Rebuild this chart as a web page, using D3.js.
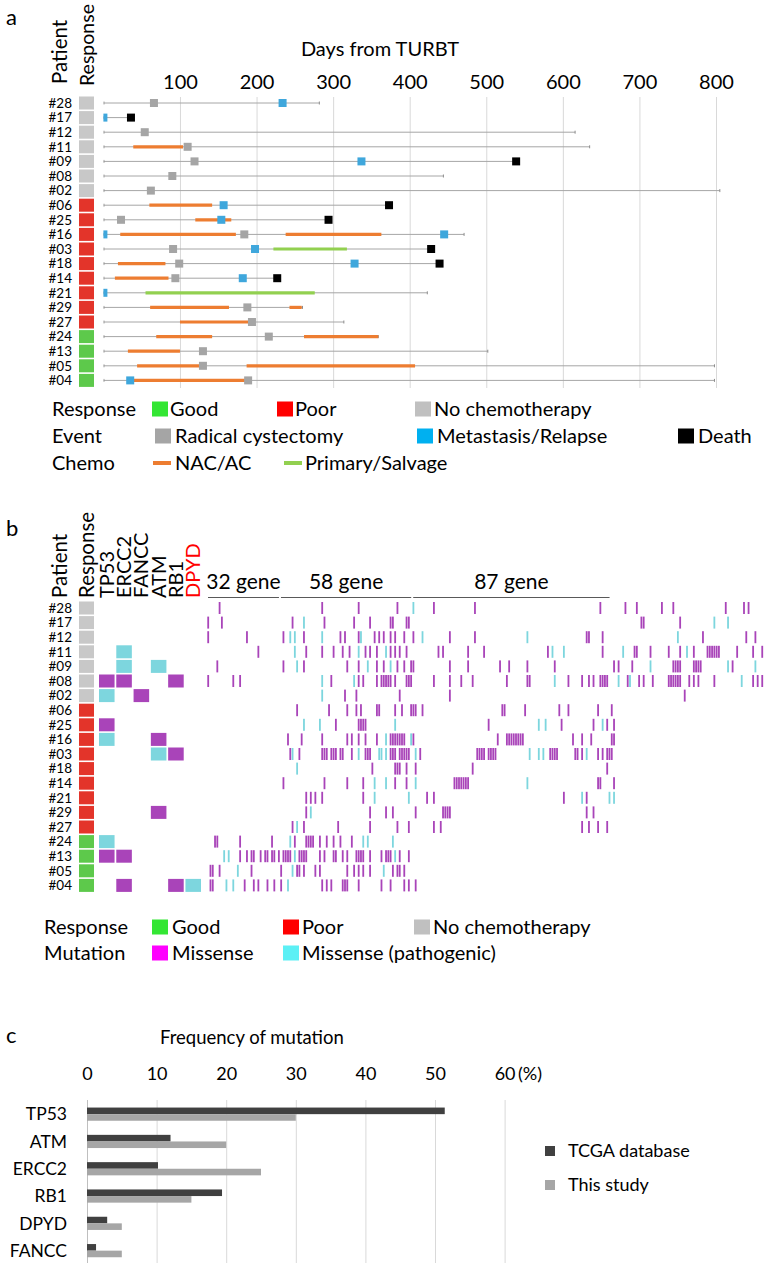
<!DOCTYPE html>
<html lang="en">
<head>
<meta charset="UTF-8">
<script src="https://d3js.org/d3.v7.min.js"></script>
<title>Timeline, mutations and frequency</title>
<style>
  body { margin: 0; background: #fff; }
  svg text { font-family: Lato, "Open Sans", sans-serif; fill: #000; }
</style>
</head>
<body>
<div id="chart"></div>
<script>
// ---- shared patient order
const patients = ["#28","#17","#12","#11","#09","#08","#02","#06","#25","#16",
                  "#03","#18","#14","#21","#29","#27","#24","#13","#05","#04"];
const response = ["none","none","none","none","none","none","none",
                  "poor","poor","poor","poor","poor","poor","poor","poor","poor",
                  "good","good","good","good"];

// ---- panel a: days from TURBT
const dayTicks = [100, 200, 300, 400, 500, 600, 700, 800];
const followUp = [282, 36, 616, 635, 539, 444, 805, 373, 294, 471, 428, 439, 227, 423, 260, 314, 359, 502, 798, 798];
const cystectomy = [66, null, 54, 110, 119, 90, 62, null, 23, 184, 91, 99, 94, null, 188, 194, 216, 130, 130, 189];
const metastasis = [[234], [0], [], [], [337], [], [], [157], [154], [0, 445], [198], [328], [182], [0], [], [], [], [], [], [35]];
const death = [null, 36, null, null, 539, null, null, 373, 294, null, 428, 439, 227, null, null, null, null, null, null, null];
const nacAc = [[], [], [], [[39, 104]], [], [], [], [[60, 142]], [[120, 167]], [[22, 173], [238, 363]],
               [], [[19, 81]], [[15, 85]], [], [[61, 164], [243, 259]], [[100, 189]], [[69, 142], [262, 359]],
               [[32, 100]], [[44, 126], [187, 407]], [[35, 185]]];
const salvage = [[], [], [], [], [], [], [], [], [], [], [[222, 318]], [], [], [[55, 276]], [], [], [], [], [], []];

// ---- panel b: mutations
const drivers = ["TP53", "ERCC2", "FANCC", "ATM", "RB1", "DPYD"];
const driverMissense = [[], [], [], [], [], ["TP53", "ERCC2", "RB1"], ["FANCC"], [], ["TP53"], ["ATM"],
                        ["RB1"], [], [], [], ["ATM"], [], [], ["TP53", "ERCC2"], [], ["ERCC2", "RB1"]];
const driverPathogenic = [[], [], [], ["ERCC2"], ["ERCC2", "ATM"], [], ["TP53"], [], [], ["TP53"],
                          ["ATM"], [], [], [], [], [], ["TP53"], [], [], ["DPYD"]];
const panelNames = ["32 gene", "58 gene", "87 gene"];
const panelSizes = [32, 58, 87];
const geneCount = 245;
// gene column index of each missense / pathogenic call, per patient
const missense = [
  [5,50,66,83,99,117,172,183,188,199,204,227,235,237],
  [0,6,37,51,64,71,80,81,87,88,190,191,207],
  [0,17,33,42,58,60,66,73,75,77,80,82,86,90,106,117,166,167,173,217,236,240],
  [22,43,50,55,59,62,69,71,74,80,82,84,87,101,103,114,121,149,173,187,188,194,202,207,213,219,220,221,222,223,224,232,239,243],
  [4,33,42,61,66,74,77,83,86,89,90,106,114,128,132,140,152,178,180,186,204,205,206,207,213,214,215,216,230],
  [0,11,14,54,66,68,74,76,77,78,79,80,82,87,88,89,99,106,111,116,131,140,141,158,164,167,169,172,173,174,175,184,189,191,195,202,203,204,205,206,207,211,213,215,222,239,241,243],
  [60,65,84,106,209],
  [39,53,61,65,67,74,75,82,85,89,90,91,94,129,130,139,154,158,171,177],
  [56,66,67,68,69,123,155,169,175,178],
  [35,41,50,61,63,66,69,74,80,81,82,83,84,85,86,90,127,131,132,133,134,135,136,137,138,160,164,168,177,178],
  [36,40,50,51,52,54,55,56,58,59,63,69,70,71,80,81,82,84,85,86,87,88,93,118,119,120,121,123,124,125,126,150,151,152,153,161,162,164,171,173,175,176,177],
  [72,82,83,84,87,91,116,175],
  [33,51,61,68,82,87,108,109,110,111,112,113,114,171,172,178],
  [43,45,47,50,68,96,99,156,166],
  [43,71,78,81,91,103,104,105,106,166,169],
  [37,42,57,71,83,88,99,102,164,167,171,175],
  [3,4,14,28,38,43,44,45,46,49,52,55,58,63],
  [14,17,19,20,23,25,26,28,29,31,33,34,35,36,40,41,42,43,49,51,55,56,59,61,65,66,67,68,71,76,78,79,80,84,88],
  [1,2,5,19,32,39,40,42,47,49,61,64,66,68,71,81,83,84,86],
  [1,2,16,20,22,26,29,32,50,52,54,59,60,61,66,76,80,86,88,91]
];
const pathogenic = [
  [90], [42,222,228], [36,38,50,67,94,140,206], [38,66,78,151,156,182,210], [39,70,80,194,228,240],
  [50,64,152,180,185,234], [50], [], [42,49,82,145,148,173], [78,89],
  [37,66,75,76,78,91,141,145,147,166], [39], [73,78,91,140], [73,88,164,176,178], [45],
  [39], [36,68,70,81], [7,9,38,82], [13,37,77], [8,11,35]
];

// ---- panel c: frequency of mutation (%)
const freqGenes = ["TP53", "ATM", "ERCC2", "RB1", "DPYD", "FANCC"];
const tcga = [51.4, 12, 10.2, 19.4, 2.9, 1.3];
const thisStudy = [30, 20, 25, 15, 5, 5];
const freqTicks = [0, 10, 20, 30, 40, 50, 60];

const respColor = {none: "#c8c8c8", poor: "#e3342a", good: "#5dc94b"};
const purple = "#a944b9", cyan = "#7dd6de";
const legendSize = 20;

const svg = d3.select("#chart").append("svg")
  .attr("width", 765).attr("height", 1284);
svg.append("rect").attr("width", 765).attr("height", 1284).attr("fill", "#fff");

function rotLabel(g, txt, x, y, size, color) {
  g.append("text").attr("transform", `translate(${x},${y}) rotate(-90)`)
    .attr("font-size", size).style("fill", color || "#000").text(txt);
}

function legendRow(g, y, label, labelX, items) {
  g.append("text").attr("x", labelX).attr("y", y).attr("dy", "0.36em")
    .attr("font-size", legendSize).text(label);
  items.forEach(it => {
    if (it.dash) {
      g.append("rect").attr("x", it.sx).attr("y", y - 2).attr("width", 18).attr("height", 4).attr("fill", it.color);
    } else {
      g.append("rect").attr("x", it.sx).attr("y", y - 7.5).attr("width", 16).attr("height", 15).attr("fill", it.color);
    }
    g.append("text").attr("x", it.tx).attr("y", y).attr("dy", "0.36em")
      .attr("font-size", legendSize).text(it.text);
  });
}

// =================== panel a ===================
const gA = svg.append("g");
const x = d3.scaleLinear().domain([0, 800]).range([103.4, 716]);
const yA = d3.scaleBand().domain(patients).range([95.7, 95.7 + patients.length * 14.6]);

gA.append("text").attr("x", 6).attr("y", 25).attr("font-size", 22).text("a");
rotLabel(gA, "Patient", 67, 84, 20.5);
rotLabel(gA, "Response", 94, 86, 19.5);
gA.append("text").attr("x", 380).attr("y", 56).attr("text-anchor", "middle")
  .attr("font-size", 20).text("Days from TURBT");

gA.append("g").attr("transform", "translate(0,97)")
  .call(d3.axisTop(x).tickValues(dayTicks).tickSize(-291).tickPadding(8))
  .call(g => g.select(".domain").remove())
  .call(g => g.selectAll("line").attr("stroke", "#d9d9d9"))
  .call(g => g.selectAll("text").attr("font-size", 20).attr("font-family", null));

svg.append("clipPath").attr("id", "clipA")
  .append("rect").attr("x", x(0)).attr("y", 90).attr("width", 700).attr("height", 310);

const rowA = gA.selectAll("g.rowA").data(patients).join("g")
  .attr("class", "rowA")
  .attr("transform", d => `translate(0,${yA(d) + yA.bandwidth() / 2})`);

rowA.append("text").attr("x", 72).attr("dy", "0.35em").attr("text-anchor", "end")
  .attr("font-size", 13.5).text(d => d);
rowA.append("rect").attr("x", 79).attr("y", -6.5).attr("width", 15).attr("height", 13)
  .attr("fill", (d, i) => respColor[response[i]]);

rowA.each(function (d, i) {
  const cy = yA(d) + yA.bandwidth() / 2;
  // clip in page coordinates so the marks at day 0 are cut at the start line
  const inner = d3.select(this).append("g").attr("transform", `translate(0,${-cy})`)
    .attr("clip-path", "url(#clipA)")
    .append("g").attr("transform", `translate(0,${cy})`);
  inner.append("line").attr("x1", x(0)).attr("x2", x(followUp[i]))
    .attr("stroke", "#a6a6a6").attr("stroke-width", 1);
  inner.append("line").attr("x1", x(0) + 0.5).attr("x2", x(0) + 0.5).attr("y1", -1.5).attr("y2", 1.5)
    .attr("stroke", "#8c8c8c");
  if (death[i] === null) {
    inner.append("line").attr("x1", x(followUp[i])).attr("x2", x(followUp[i])).attr("y1", -1.5).attr("y2", 1.5)
      .attr("stroke", "#8c8c8c");
  }
  inner.selectAll("line.nac").data(nacAc[i]).join("line").attr("class", "nac")
    .attr("x1", s => x(s[0])).attr("x2", s => x(s[1]))
    .attr("stroke", "#ed7d31").attr("stroke-width", 3.2);
  inner.selectAll("line.sal").data(salvage[i]).join("line").attr("class", "sal")
    .attr("x1", s => x(s[0])).attr("x2", s => x(s[1]))
    .attr("stroke", "#92d050").attr("stroke-width", 3.2);
  if (cystectomy[i] !== null) {
    inner.append("rect").attr("x", x(cystectomy[i]) - 4).attr("y", -4).attr("width", 8).attr("height", 8)
      .attr("fill", "#a5a5a5");
  }
  inner.selectAll("rect.met").data(metastasis[i]).join("rect").attr("class", "met")
    .attr("x", v => x(v) - 4).attr("y", -4).attr("width", 8).attr("height", 8)
    .attr("fill", "#3fa7dc");
  if (death[i] !== null) {
    inner.append("rect").attr("x", x(death[i]) - 4).attr("y", -4).attr("width", 8).attr("height", 8)
      .attr("fill", "#000");
  }
});

const legA = gA.append("g");
legendRow(legA, 409, "Response", 52, [
  {sx: 152, tx: 170, color: "#33e633", text: "Good"},
  {sx: 277, tx: 295, color: "#ff0000", text: "Poor"},
  {sx: 415, tx: 434, color: "#c0c0c0", text: "No chemotherapy"}]);
legendRow(legA, 436, "Event", 52, [
  {sx: 155, tx: 175, color: "#a5a5a5", text: "Radical cystectomy"},
  {sx: 417, tx: 437, color: "#00b0f0", text: "Metastasis/Relapse"},
  {sx: 678, tx: 698, color: "#000000", text: "Death"}]);
legendRow(legA, 463, "Chemo", 52, [
  {sx: 153, tx: 175, color: "#ed7d31", text: "NAC/AC", dash: true},
  {sx: 284, tx: 305, color: "#92d050", text: "Primary/Salvage", dash: true}]);

// =================== panel b ===================
const gB = svg.append("g");
const yB = d3.scaleBand().domain(patients).range([600.7, 600.7 + patients.length * 14.6]);
const xDrv = d3.scaleBand().domain(drivers).range([99, 201]).paddingInner(0.1);
const xGene = d3.scaleBand().domain(d3.range(geneCount)).range([207, 765.6]);

gB.append("text").attr("x", 6).attr("y", 536).attr("font-size", 22).text("b");
rotLabel(gB, "Patient", 67, 598, 20.5);
rotLabel(gB, "Response", 94, 598, 20.5);
drivers.forEach(g => rotLabel(gB, g, xDrv(g) + xDrv.bandwidth() / 2 + 7, 598, 20, g === "DPYD" ? "#ff0000" : "#000"));

let start = 0;
panelNames.forEach((name, k) => {
  const x0 = xGene(start) + 1, x1 = xGene(start + panelSizes[k] - 1) + xGene.bandwidth() - 1;
  gB.append("line").attr("x1", x0).attr("x2", x1).attr("y1", 597.5).attr("y2", 597.5)
    .attr("stroke", "#595959").attr("stroke-width", 1.2);
  gB.append("text").attr("x", (x0 + x1) / 2).attr("y", 589).attr("text-anchor", "middle")
    .attr("font-size", 21).text(name);
  start += panelSizes[k];
});

const rowB = gB.selectAll("g.rowB").data(patients).join("g")
  .attr("class", "rowB")
  .attr("transform", d => `translate(0,${yB(d) + yB.bandwidth() / 2})`);
rowB.append("text").attr("x", 72).attr("dy", "0.35em").attr("text-anchor", "end")
  .attr("font-size", 13.5).text(d => d);
rowB.append("rect").attr("x", 79).attr("y", -6.5).attr("width", 15).attr("height", 13)
  .attr("fill", (d, i) => respColor[response[i]]);

rowB.each(function (d, i) {
  const g = d3.select(this);
  const cells = driverMissense[i].map(n => ({n, c: purple}))
    .concat(driverPathogenic[i].map(n => ({n, c: cyan})));
  g.selectAll("rect.drv").data(cells).join("rect").attr("class", "drv")
    .attr("x", c => xDrv(c.n)).attr("y", -6.5).attr("width", xDrv.bandwidth()).attr("height", 13)
    .attr("fill", c => c.c);
  const marks = missense[i].map(k => ({k, c: purple}))
    .concat(pathogenic[i].map(k => ({k, c: cyan})));
  g.selectAll("rect.mut").data(marks).join("rect").attr("class", "mut")
    .attr("x", m => xGene(m.k) + 0.3).attr("y", -6).attr("width", 1.8).attr("height", 12)
    .attr("fill", m => m.c);
});

const legB = gB.append("g");
legendRow(legB, 927, "Response", 44, [
  {sx: 152, tx: 172, color: "#33e633", text: "Good"},
  {sx: 283, tx: 302, color: "#ff0000", text: "Poor"},
  {sx: 414, tx: 433, color: "#c0c0c0", text: "No chemotherapy"}]);
legendRow(legB, 953, "Mutation", 44, [
  {sx: 152, tx: 172, color: "#ff00ff", text: "Missense"},
  {sx: 283, tx: 302, color: "#5cf0f5", text: "Missense (pathogenic)"}]);

// =================== panel c ===================
const gC = svg.append("g");
const xF = d3.scaleLinear().domain([0, 60]).range([87, 504.6]);
const yF = d3.scaleBand().domain(freqGenes).range([1100.5, 1100.5 + freqGenes.length * 27.3]);

gC.append("text").attr("x", 6).attr("y", 1043).attr("font-size", 22).text("c");
gC.append("text").attr("x", 160).attr("y", 1044).attr("font-size", 18.5).text("Frequency of mutation");

gC.append("g").attr("transform", "translate(0,1100)")
  .call(d3.axisTop(xF).tickValues(freqTicks).tickSize(-163).tickPadding(20))
  .call(g => g.select(".domain").remove())
  .call(g => g.selectAll("line").attr("stroke", v => v === 0 ? "#bfbfbf" : "#d9d9d9"))
  .call(g => g.selectAll("text").attr("font-size", 18).attr("font-family", null));
gC.append("text").attr("x", 518).attr("y", 1080).attr("font-size", 18).text("(%)");

const barH = 6.6;
gC.selectAll("rect.tcga").data(freqGenes).join("rect").attr("class", "tcga")
  .attr("x", xF(0)).attr("y", g => yF(g) + yF.step() / 2 - barH)
  .attr("width", (g, i) => xF(tcga[i]) - xF(0)).attr("height", barH).attr("fill", "#404040");
gC.selectAll("rect.study").data(freqGenes).join("rect").attr("class", "study")
  .attr("x", xF(0)).attr("y", g => yF(g) + yF.step() / 2)
  .attr("width", (g, i) => xF(thisStudy[i]) - xF(0)).attr("height", barH).attr("fill", "#a6a6a6");
gC.selectAll("text.cat").data(freqGenes).join("text").attr("class", "cat")
  .attr("x", 67).attr("y", g => yF(g) + yF.step() / 2).attr("dy", "0.36em")
  .attr("text-anchor", "end").attr("font-size", 17.5).text(g => g);

[["TCGA database", "#404040", 1151], ["This study", "#a6a6a6", 1185]].forEach(([t, c, y]) => {
  gC.append("rect").attr("x", 545).attr("y", y - 5).attr("width", 10).attr("height", 10).attr("fill", c);
  gC.append("text").attr("x", 568).attr("y", y).attr("dy", "0.36em").attr("font-size", 18).text(t);
});
</script>
</body>
</html>
